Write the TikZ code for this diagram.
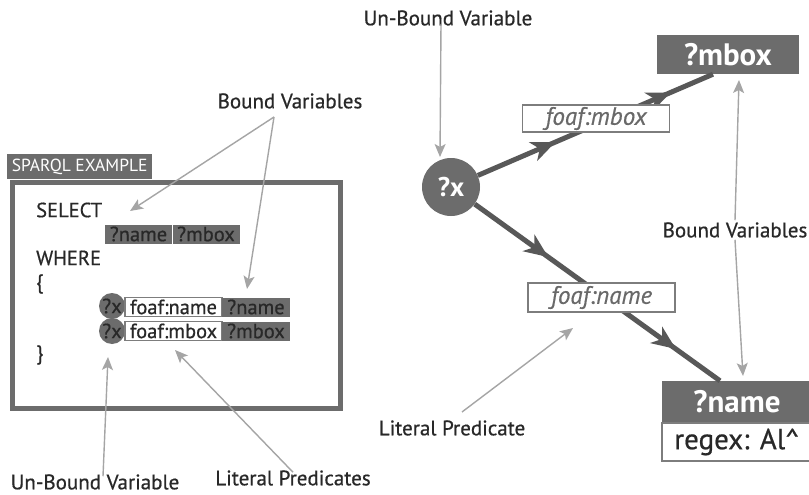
\documentclass[tikz,border=0pt]{standalone}
\usepackage{fontspec}
\setmainfont{PT Sans}
\newfontfamily\medfont{PT Sans}[FakeBold=0.6]
\newfontfamily\meditfont{PT Sans Italic}[FakeBold=0.4]
\usetikzlibrary{arrows.meta,decorations.markings}

\definecolor{darkfill}{RGB}{108,108,108}
\definecolor{edgegray}{RGB}{88,88,88}
\definecolor{pointer}{RGB}{165,165,165}
\definecolor{ink}{RGB}{40,40,40}
\definecolor{boxline}{RGB}{125,125,125}
\definecolor{predtext}{RGB}{105,105,105}

\tikzset{
  label text/.style={font=\medfont\fontsize{21}{24}\selectfont, text=ink, inner sep=0pt},
  code/.style={font=\medfont\fontsize{20.5}{23}\selectfont, text=ink, inner sep=0pt, anchor=west},
  varbox/.style={fill=darkfill, text=ink, font=\medfont\fontsize{20.5}{23}\selectfont,
    inner sep=0pt, minimum height=19pt},
  predbox/.style={draw=boxline, line width=1.2pt, fill=white, text=ink,
    font=\medfont\fontsize{20.5}{23}\selectfont, inner sep=0pt, minimum height=19pt},
  smallvar/.style={circle, fill=darkfill, text=ink, font=\medfont\fontsize{20.5}{23}\selectfont,
    inner sep=0pt, minimum size=26pt},
  pointer arrow/.style={draw=pointer, line width=1.4pt,
    -{Stealth[length=13pt,width=11pt,inset=3pt]}},
  graph edge/.style 2 args={draw=edgegray, line width=5pt,
    postaction={decorate},
    decoration={markings,
      mark=at position #1 with {\arrow[edgegray]{Stealth[length=24pt,width=20pt,inset=7pt]}},
      mark=at position #2 with {\arrow[edgegray]{Stealth[length=24pt,width=20pt,inset=7pt]}}}},
  graph var/.style={fill=darkfill, text=white, font=\fontsize{31}{34}\selectfont\bfseries,
    inner sep=0pt},
  graph pred/.style={draw=boxline, line width=1.3pt, fill=white, text=predtext,
    font=\meditfont\fontsize{25}{28}\selectfont, inner sep=0pt},
}

\begin{document}
\begin{tikzpicture}[x=1pt,y=-1pt]
\useasboundingbox[fill=white] (0,0) rectangle (809,495);

% ---------- SPARQL query panel ----------
\node[draw=darkfill, line width=5pt, minimum width=328pt, minimum height=226pt,
      inner sep=0pt] (frame) at (176,295) {};
\node[fill=darkfill, text=white, font=\fontsize{17.5}{20}\selectfont,
      minimum width=145pt, minimum height=25pt, inner sep=0pt,
      anchor=south west] (tab) at ([xshift=-2.5pt]frame.north west) {SPARQL EXAMPLE};

\node[code] (select) at (36,210) {SELECT};
\node[varbox, minimum width=67pt] (selname) at (138.5,234) {?name};
\node[varbox, minimum width=67pt] (selmbox) at (206,234) {?mbox};
\node[code] (where) at (36,258) {WHERE};
\node[code] (open) at (36,284) {\{};

\node[smallvar] (x1) at (112,306) {?x};
\node[smallvar] (x2) at (112,331) {?x};
\node[predbox, minimum width=97pt] (p1) at (173.5,307) {foaf:name};
\node[varbox, minimum width=68pt] (o1) at (256,307) {?name};
\node[predbox, minimum width=97pt] (p2) at (173.5,331) {foaf:mbox};
\node[varbox, minimum width=68pt] (o2) at (256,331) {?mbox};
\node[code] (close) at (36,355) {\}};

% ---------- annotations of the query ----------
\node[label text] (bvl) at (290,101) {Bound Variables};
\node[label text] (ubl) at (95,482) {Un-Bound Variable};
\node[label text] (lpl) at (293,478) {Literal Predicates};

\coordinate (bvlfoot) at (274,117);
\coordinate (selecttip) at (130,211);
\coordinate (nametip) at (247,289);
\coordinate (xtip) at (108,357);
\coordinate (predtip) at (175,350);

\draw[pointer arrow] (bvlfoot) -- (selecttip);
\draw[pointer arrow] (bvlfoot) -- (nametip);
\draw[pointer arrow] ([xshift=8pt,yshift=-2pt]ubl.north) -- (xtip);
\draw[pointer arrow] ([yshift=-2pt]lpl.north) -- (predtip);

% ---------- graph pattern ----------
\node[graph var, circle, minimum size=58pt, font=\fontsize{27}{30}\selectfont\bfseries]
  (xr) at (451,187) {?x};
\node[graph var, minimum width=142pt, minimum height=39pt] (mboxr) at (728,54.5) {?mbox};
\node[graph var, minimum width=150pt, minimum height=41pt] (namer) at (737,401.5) {?name};
\node[draw=boxline, line width=1.5pt, fill=white, text=ink,
      font=\medfont\fontsize{29}{32}\selectfont, minimum width=150pt, minimum height=38pt,
      inner sep=0pt, anchor=north] (regex) at (namer.south) {regex: Al\^{}};

\path[graph edge={0.33}{0.82}] (xr) -- ([xshift=-15pt]mboxr.south);
\path[graph edge={0.30}{0.82}] (xr) -- ([xshift=-17pt]namer.north);

\node[graph pred, minimum width=147pt, minimum height=27pt] (lmbox) at (596,118.5) {foaf:mbox};
\node[graph pred, minimum width=147pt, minimum height=29pt] (lname) at (601.5,297.5) {foaf:name};

% ---------- annotations of the graph ----------
\node[label text] (ubr) at (448,18) {Un-Bound Variable};
\node[label text] (bvr) at (735,230) {Bound Variables};
\node[label text] (lpr) at (452,428) {Literal Predicate};

\coordinate (xrtip) at (440,157);
\coordinate (mboxtip) at (739,80);
\coordinate (nametipr) at (743,376);
\coordinate (lnametip) at (573,328);

\draw[pointer arrow] ([xshift=-7pt,yshift=2pt]ubr.south) -- (xrtip);
\draw[pointer arrow] ([yshift=2pt]bvr.north) -- (mboxtip);
\draw[pointer arrow] ([yshift=-2pt]bvr.south) -- (nametipr);
\draw[pointer arrow] (462,412) -- (lnametip);
\end{tikzpicture}
\end{document}
